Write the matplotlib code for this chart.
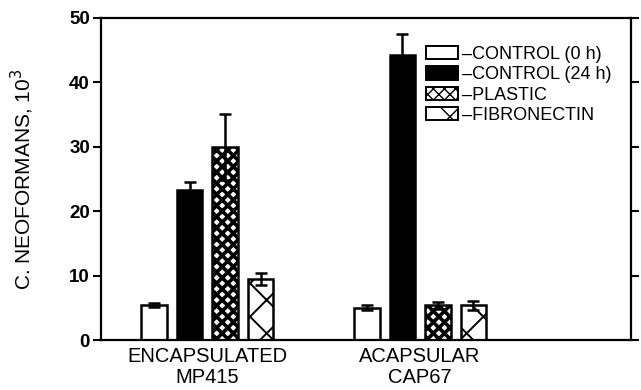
import matplotlib
matplotlib.use('Agg')
import matplotlib.pyplot as plt
import numpy as np

plt.rcParams['font.family'] = ['Liberation Sans', 'DejaVu Sans']

# data
groups = ['ENCAPSULATED\nMP415', 'ACAPSULAR\nCAP67']
series = ['\u2013CONTROL (0 h)', '\u2013CONTROL (24 h)', '\u2013PLASTIC', '\u2013FIBRONECTIN']
values = [
    [5.4, 5.0],     # control 0 h
    [23.3, 44.3],   # control 24 h
    [30.0, 5.4],    # plastic
    [9.5, 5.4],     # fibronectin
]
errors = [
    [0.3, 0.4],
    [1.2, 3.2],
    [5.1, 0.5],
    [0.9, 0.7],
]

faces = ['white', 'black', 'white', 'white']
hatches = [None, None, 'xxx', 'x']
hatch_lw = [1.0, 1.0, 2.6, 1.4]

fig = plt.figure(figsize=(6.41, 3.90), dpi=100)
ax = fig.add_axes([0.1576, 0.128, 0.8264, 0.826])

group_x = np.array([0.0, 6.0])
offsets = [-1.5, -0.5, 0.5, 1.5]
width = 0.72

for i in range(4):
    bars = ax.bar(group_x + offsets[i], values[i], width, color=faces[i],
                  edgecolor='black', linewidth=1.8, hatch=hatches[i],
                  label=series[i], zorder=2)
    for b in bars:
        if hasattr(b, 'set_hatch_linewidth'):
            b.set_hatch_linewidth(hatch_lw[i])
    ax.errorbar(group_x + offsets[i], values[i], yerr=errors[i], fmt='none',
                ecolor='black', elinewidth=1.8, capsize=4, capthick=1.8,
                zorder=3)

ax.set_xlim(-3.0, 11.94)
ax.set_ylim(0, 50)
ax.set_yticks([0, 10, 20, 30, 40, 50])
ax.set_xticks(group_x)
ax.set_xticklabels(groups, fontsize=14.5, linespacing=1.15)
ax.tick_params(axis='x', length=0, pad=5)
ax.tick_params(axis='y', direction='out', length=6, width=1.5,
               right=True, labelsize=13.5, pad=2)
for lab in ax.get_yticklabels():
    lab.set_fontweight('bold')
for s in ax.spines.values():
    s.set_linewidth(1.6)

ax.set_ylabel('C. NEOFORMANS, 10$^3$', fontsize=15, labelpad=24)

leg = ax.legend(loc='upper left', bbox_to_anchor=(0.6, 0.935), frameon=False,
                fontsize=13, handlelength=1.75, handleheight=0.75,
                handletextpad=0.25, labelspacing=0.18, borderaxespad=0)
for h in leg.legend_handles:
    h.set_linewidth(1.4)

fig.savefig('out.png', dpi=100)
